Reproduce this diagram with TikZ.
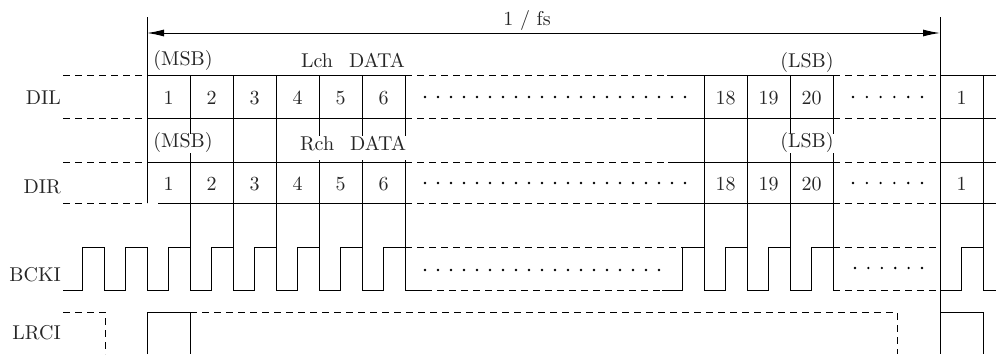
\documentclass[tikz,border=0pt]{standalone}
\usetikzlibrary{arrows.meta}
\DeclareFontFamily{TU}{lmrten}{}
\DeclareFontShape{TU}{lmrten}{m}{n}{<-> "[lmroman10-regular]:+tlig;"}{}
\tikzset{
  sig/.style={line width=1pt},
  dsh/.style={line width=1pt, dash pattern=on 7pt off 5pt},
  lbl/.style={inner sep=0pt, text=black!85, font=\fontfamily{lmrten}\fontsize{20}{24}\selectfont},
  gaplbl/.style={lbl, fill=white, text height=14pt, text depth=5pt},
  fstip/.tip={Latex[length=17pt,width=7pt]},
}
\begin{document}
\begin{tikzpicture}[x=1pt,y=-1pt]
\useasboundingbox (0,0) rectangle (996,354);

% frame of one period
\draw[sig] (147,17) -- (147,203);
\draw[sig] (940,17) -- (940,354);
\coordinate (fsL) at (147,33);
\coordinate (fsR) at (940,33);
\draw[sig,fstip-fstip] (fsL) -- (fsR);
\node[lbl] (fs) at (527,20) {1 / fs};

% bit edges down to BCKI
\foreach \x in {190,233,...,405,704,747,790,833,983}
  \draw[sig] (\x,75) -- (\x,247);

% channel labels
\node[lbl] (msbL) at (183,60) {(MSB)};
\node[lbl] (lch) at (353,60) {Lch\hspace{0.8em}DATA};
\node[lbl] (lsbL) at (807,62) {(LSB)};
\node[gaplbl] (msbR) at (183,143) {(MSB)};
\node[gaplbl,text depth=10pt] (rch) at (353,148) {Rch\hspace{0.8em}DATA};
\node[gaplbl] (lsbR) at (807,143) {(LSB)};

% row lines
\foreach \y/\a/\s in {75/147/667,118/147/657,162/147/668,203/158/662}{
  \draw[dsh] (63,\y) -- (147,\y);
  \draw[sig] (\a,\y) -- (405,\y);
  \draw[dsh] (405,\y) -- (\s,\y);
  \draw[sig] (\s,\y) -- (833,\y);
  \draw[dsh] (833,\y) -- (940,\y);
  \draw[sig] (940,\y) -- (996,\y);
}

% signal names
\node[lbl,anchor=east] (dil) at (61,98) {DIL};
\node[lbl,anchor=east] (dir) at (61,187) {DIR};
\node[lbl,anchor=east] (bcki) at (61,275) {BCKI};
\node[lbl,anchor=east] (lrci) at (61,333) {LRCI};

% bit numbers
\foreach \n in {1,...,6}{
  \node[lbl] (l\n) at ({125.5+43*\n},98) {\n};
  \node[lbl] (r\n) at ({125.5+43*\n},184) {\n};
}
\foreach \n/\x in {18/725.5,19/768.5,20/811.5}{
  \node[lbl] (l\n) at (\x,98) {\n};
  \node[lbl] (r\n) at (\x,184) {\n};
}
\node[lbl] (lnext) at (961.5,98) {1};
\node[lbl] (rnext) at (961.5,184) {1};

% dots
\foreach \x in {425,438,...,686}{
  \fill (\x,97) circle (1.3pt);
  \fill (\x,183) circle (1.3pt);
}
\foreach \x in {425,438,...,660}
  \fill (\x,270) circle (1.3pt);
\foreach \k in {0,...,5}{
  \fill ({853+13.8*\k},97) circle (1.3pt);
  \fill ({853+13.8*\k},183) circle (1.3pt);
  \fill ({855+13.4*\k},268) circle (1.3pt);
}

% BCKI
\draw[sig] (63,290) \foreach \b in {104,147,...,405}{
  -- ({\b-21.5},290) -- ({\b-21.5},247) -- (\b,247) -- (\b,290)} -- (425,290);
\draw[dsh] (425,290) -- (662,290);
\draw[dsh] (405,247) -- (683,247);
\draw[sig] (662,290) \foreach \b in {704,747,790,833}{
  -- ({\b-21.5},290) -- ({\b-21.5},247) -- (\b,247) -- (\b,290)};
\draw[dsh] (833,290) -- (940,290);
\draw[dsh] (833,247) -- (940,247);
\draw[sig] (940,290) -- (961.5,290) -- (961.5,247) -- (983,247) -- (983,290) -- (996,290);

% LRCI
\draw[dsh] (63,312) -- (105,312) -- (105,354);
\draw[sig] (147,354) -- (147,312) -- (190,312) -- (190,354);
\draw[dsh] (190,312) -- (897,312) -- (897,354);
\draw[sig] (940,312) -- (983,312) -- (983,354);
\end{tikzpicture}
\end{document}
